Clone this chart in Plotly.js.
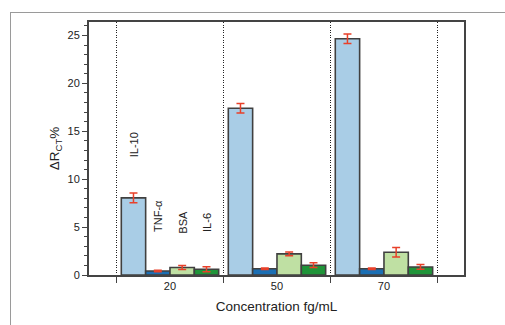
<!DOCTYPE html>
<html>
<head>
<meta charset="utf-8">
<script src="https://cdn.plot.ly/plotly-3.0.1.min.js"></script>
<style>
html,body{margin:0;padding:0;background:#fff;}
#wrap{position:relative;width:505px;height:325px;}
#frame{position:absolute;left:10px;top:12px;width:495px;height:313px;border-top:1px solid #9a9a9a;border-left:1px solid #9a9a9a;box-sizing:border-box;pointer-events:none;}
#chart{position:absolute;left:0;top:0;width:505px;height:325px;}
</style>
</head>
<body>
<div id="wrap"><div id="chart"></div><div id="frame"></div></div>
<script>
const categories = ["20", "50", "70"];
const seriesNames = ["IL-10", "TNF-α", "BSA", "IL-6"];
const il10 = [8.05, 17.4, 24.65];
const il10Err = [0.5, 0.5, 0.5];
const tnf = [0.42, 0.66, 0.66];
const tnfErr = [0.08, 0.08, 0.08];
const bsa = [0.78, 2.2, 2.38];
const bsaErr = [0.2, 0.2, 0.5];
const il6 = [0.6, 1.02, 0.84];
const il6Err = [0.25, 0.25, 0.25];
const colors = ["#a9cde6", "#1b6fb4", "#bfe0a3", "#1f9439"];
const labelY = [13.6, 6.15, 5.47, 5.47];
const labelX = [-0.34, -0.113, 0.113, 0.34];

const vals = [il10, tnf, bsa, il6];
const errs = [il10Err, tnfErr, bsaErr, il6Err];
const traces = vals.map((v, i) => ({
  type: "bar",
  x: categories,
  y: v,
  name: seriesNames[i],
  marker: {color: colors[i], line: {color: "#404040", width: 1.6}},
  error_y: {type: "data", array: errs[i], visible: true, color: "#e8402a", thickness: 1.5, width: 4}
}));

const annotations = seriesNames.map((n, i) => ({
  x: labelX[i], y: labelY[i], xref: "x", yref: "y",
  text: n, showarrow: false, textangle: -90,
  xanchor: "center", yanchor: "middle",
  font: {size: 11, color: "#222", family: "Liberation Sans, Arial, sans-serif"}
}));

const layout = {
  width: 505, height: 325,
  margin: {l: 89, r: 41, t: 22, b: 50},
  paper_bgcolor: "rgba(0,0,0,0)",
  plot_bgcolor: "#fff",
  showlegend: false,
  barmode: "group",
  bargap: 0.09,
  bargroupgap: 0,
  font: {family: "Liberation Sans, Arial, sans-serif", size: 11, color: "#222"},
  xaxis: {
    type: "category",
    range: [-0.757, 2.748],
    tickson: "boundaries",
    ticks: "outside", ticklen: 6, tickwidth: 1, tickcolor: "#444",
    showgrid: true, griddash: "1px,1.5px", gridcolor: "#222", gridwidth: 1,
    showline: true, linecolor: "#444", linewidth: 2, mirror: true,
    zeroline: false,
    title: {text: "Concentration fg/mL", font: {size: 13.5, color: "#222"}, standoff: 10}
  },
  yaxis: {
    range: [0, 26.4],
    dtick: 5,
    ticks: "outside", ticklen: 5, tickwidth: 1, tickcolor: "#444",
    minor: {dtick: 1, ticks: "outside", ticklen: 3, tickcolor: "#444", showgrid: false},
    showgrid: false,
    showline: true, linecolor: "#444", linewidth: 2, mirror: true,
    zeroline: false,
    title: {text: "ΔR<sub>CT</sub>%", font: {size: 13.5, color: "#222"}, standoff: 5}
  },
  annotations: annotations
};

Plotly.newPlot("chart", traces, layout, {staticPlot: true, displayModeBar: false});
</script>
</body>
</html>
